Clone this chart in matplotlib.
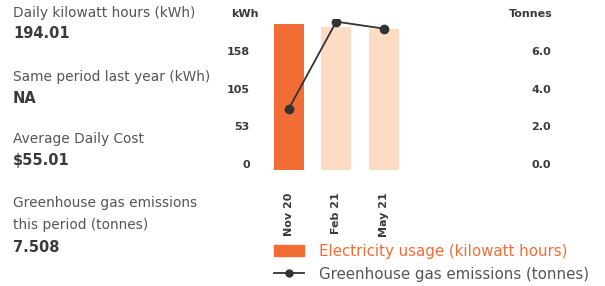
import matplotlib.pyplot as plt
from matplotlib.lines import Line2D
from matplotlib.patches import Patch
from matplotlib.transforms import ScaledTranslation

# data
periods = ['Nov 20', 'Feb 21', 'May 21']
kwh = [204, 200, 197]
tonnes = [3.25, 7.88, 7.51]
kwh_ticks = [0, 52.67, 105.33, 158]
kwh_labels = ['0', '53', '105', '158']
t_ticks = [0, 2, 4, 6]
t_labels = ['0.0', '2.0', '4.0', '6.0']

summary = [
    ('Daily kilowatt hours (kWh)', '194.01'),
    ('Same period last year (kWh)', 'NA'),
    ('Average Daily Cost', '$55.01'),
    ('Greenhouse gas emissions\nthis period (tonnes)', '7.508'),
]

orange = '#f26d36'
peach = '#fddcc3'
grey = '#555555'
dark = '#3a3a3a'

fig = plt.figure(figsize=(6.05, 2.86), dpi=100)
W, H = 605, 286

# left side summary text
label_y = [13, 77, 139, 203]
value_y = [33, 98, 161, 247]
for (lab, val), ly, vy in zip(summary, label_y, value_y):
    va = 'top' if '\n' in lab else 'center'
    yy = ly - 7 if '\n' in lab else ly
    fig.text(13 / W, 1 - yy / H, lab, fontsize=9.9, color=grey, va=va, ha='left',
             linespacing=1.7)
    fig.text(13 / W, 1 - vy / H, val, fontsize=10.5, color=dark, fontweight='bold',
             va='center', ha='left')

# chart
ax = fig.add_axes([265 / W, 1 - 170 / H, 237.5 / W, 150.6 / H])
x = list(range(len(periods)))
colors = [orange] + [peach] * (len(periods) - 1)
ax.bar(x, kwh, width=0.64, color=colors, zorder=1)
ax.set_xlim(-0.5, 4.5)
ax.set_ylim(0, 210.67)
ax.set_yticks(kwh_ticks)
ax.set_yticklabels(kwh_labels)
ax.set_xticks(x)
ax.set_xticklabels(periods, rotation=90, fontweight='bold', fontsize=8, color=dark,
                   va='top')
ax.tick_params(axis='x', length=0, pad=16)
ax.tick_params(axis='y', length=0, pad=11, labelsize=8, labelcolor=dark)
for t in ax.get_yticklabels():
    t.set_fontweight('bold')
for s in ax.spines.values():
    s.set_visible(False)

ax2 = ax.twinx()
ax2.plot(x, tonnes, color='#333333', marker='o', markersize=6, linewidth=1.3, zorder=3)
ax2.set_ylim(0, 8)
ax2.set_yticks(t_ticks)
ax2.set_yticklabels(t_labels)
ax2.tick_params(axis='y', length=0, pad=28, labelsize=8, labelcolor=dark)
for t in ax2.get_yticklabels():
    t.set_fontweight('bold')
    t.set_horizontalalignment('center')
for s in ax2.spines.values():
    s.set_visible(False)

# shift tick labels up a little like the original
shift = ScaledTranslation(0, 6 / 100, fig.dpi_scale_trans)
for t in ax.get_yticklabels() + ax2.get_yticklabels():
    t.set_transform(t.get_transform() + shift)

fig.text(245 / W, 1 - 14 / H, 'kWh', fontsize=8, fontweight='bold', color=dark,
         ha='center', va='center')
fig.text(531 / W, 1 - 14 / H, 'Tonnes', fontsize=8, fontweight='bold', color=dark,
         ha='center', va='center')

handles = [Patch(color=orange),
           Line2D([], [], color='#333333', marker='o', markersize=5, linewidth=1.3)]
leg = fig.legend(handles, ['Electricity usage (kilowatt hours)',
                           'Greenhouse gas emissions (tonnes)'],
                 loc='upper left', bbox_to_anchor=(274 / W, 1 - 244 / H),
                 frameon=False, fontsize=10.8, handlelength=2.0, handleheight=0.75,
                 handletextpad=1.0, labelspacing=0.5, borderpad=0, borderaxespad=0)
leg.get_texts()[0].set_color(orange)
leg.get_texts()[1].set_color(grey)

fig.savefig('out.png', dpi=100)
